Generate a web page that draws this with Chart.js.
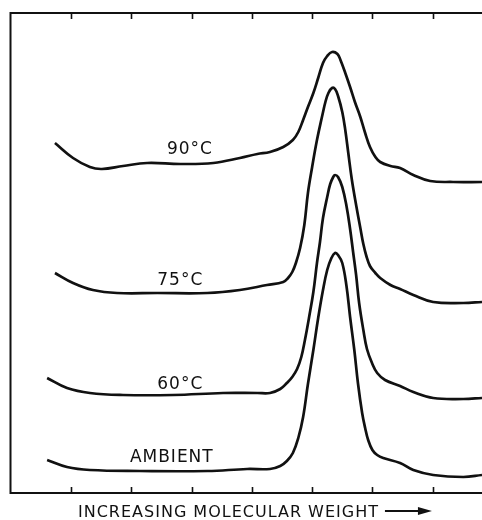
<!DOCTYPE html>
<html>
<head>
<meta charset="utf-8">
<script src="https://cdn.jsdelivr.net/npm/chart.js@4"></script>
<style>
  html, body { margin: 0; padding: 0; background: #fff; }
  canvas { display: block; }
</style>
</head>
<body>
<canvas id="c" width="482" height="520"></canvas>
<script>
// ---- data (x in tick units along molecular-weight axis, y in arbitrary response units) ----
const xTicks = [1, 2, 3, 4, 5, 6, 7];

const x90 = [0.73, 1.03, 1.31, 1.51, 1.86, 2.26, 2.81, 3.36, 3.80, 4.09, 4.30, 4.52, 4.68, 4.77, 4.85, 4.93, 5.02, 5.10, 5.18, 5.25, 5.33, 5.42, 5.47, 5.55, 5.63, 5.71, 5.80, 5.88, 5.96, 6.05, 6.13, 6.30, 6.46, 6.68, 6.96, 7.34, 7.82];
const y90 = [70, 67, 65.2, 64.8, 65.4, 66, 65.8, 66, 67, 67.8, 68.2, 69.2, 70.6, 72.2, 74.6, 77.2, 80, 83, 86, 87.4, 88.2, 87.8, 86.6, 84, 81.2, 78.2, 75.2, 72, 69.2, 67.2, 66.2, 65.4, 65, 63.6, 62.4, 62.2, 62.2];

const x75 = [0.73, 1.03, 1.36, 1.76, 2.43, 3.26, 3.80, 4.25, 4.52, 4.60, 4.67, 4.73, 4.80, 4.87, 4.93, 5.00, 5.08, 5.17, 5.22, 5.27, 5.33, 5.38, 5.43, 5.50, 5.55, 5.60, 5.66, 5.73, 5.80, 5.85, 5.90, 5.96, 6.05, 6.13, 6.30, 6.46, 6.68, 7.01, 7.51, 7.82];
const y75 = [44, 42, 40.6, 40, 40, 40, 40.6, 41.6, 42.2, 43, 44.2, 46, 49, 53.6, 60, 65.2, 70.6, 75.6, 78.2, 80, 81, 80.8, 79.4, 76.2, 72.6, 68, 62.6, 57.6, 53, 49.8, 47.4, 45.4, 44, 43, 41.6, 40.8, 39.6, 38.2, 38, 38.2];

const x60 = [0.60, 0.93, 1.31, 1.86, 2.69, 3.52, 4.09, 4.30, 4.47, 4.58, 4.67, 4.75, 4.82, 4.88, 4.95, 5.02, 5.08, 5.13, 5.18, 5.25, 5.30, 5.35, 5.38, 5.43, 5.50, 5.57, 5.63, 5.68, 5.73, 5.78, 5.85, 5.91, 6.00, 6.08, 6.21, 6.46, 6.68, 7.01, 7.51, 7.82];
const y60 = [23, 21, 20, 19.6, 19.6, 20, 20, 20, 20.8, 22, 23.2, 24.8, 27.2, 30.6, 35.2, 40.2, 46, 50.2, 55, 59.2, 61.8, 63.2, 63.6, 63.2, 61.2, 57.4, 52.8, 48.2, 43.6, 38, 32.6, 28.8, 25.8, 24, 22.6, 21.4, 20.2, 19, 18.8, 19];

const xAmb = [0.60, 0.93, 1.31, 2.14, 3.26, 3.92, 4.30, 4.47, 4.58, 4.68, 4.77, 4.85, 4.93, 5.02, 5.10, 5.18, 5.25, 5.32, 5.38, 5.43, 5.50, 5.57, 5.63, 5.70, 5.76, 5.83, 5.88, 5.93, 6.00, 6.08, 6.18, 6.46, 6.68, 7.01, 7.51, 7.82];
const yAmb = [6.6, 5.2, 4.6, 4.4, 4.4, 4.8, 4.8, 5.4, 6.4, 8, 11, 15.2, 21.8, 28.6, 35, 40.6, 44.6, 47, 48, 47.6, 46, 41.4, 35.2, 28.6, 22, 16, 13, 10.6, 8.6, 7.6, 7, 6, 4.6, 3.6, 3.2, 3.6];

const seriesNames = ['90°C', '75°C', '60°C', 'AMBIENT'];
const labelX = [2.97, 2.81, 2.81, 2.67];
const labelY = [68.6, 42.4, 21.6, 7.0];
const axisTitle = 'INCREASING MOLECULAR WEIGHT';

// ---- build datasets ----
function pts(xs, ys) { return xs.map((x, i) => ({ x: x, y: ys[i] })); }
const allX = [x90, x75, x60, xAmb];
const allY = [y90, y75, y60, yAmb];
const datasets = seriesNames.map((n, i) => ({
  label: n,
  data: pts(allX[i], allY[i]),
  borderColor: '#111',
  borderWidth: 2.7,
  pointRadius: 0,
  fill: false,
  tension: 0.4
}));

const FONT = '"DejaVu Sans", "Liberation Sans", sans-serif';

const decor = {
  id: 'decor',
  afterDatasetsDraw(chart) {
    const { ctx, chartArea: a, scales: { x, y } } = chart;
    ctx.save();
    // frame: left, top, bottom
    ctx.strokeStyle = '#111';
    ctx.lineWidth = 2;
    ctx.beginPath();
    ctx.moveTo(a.right, a.top); ctx.lineTo(a.left - 0.5, a.top); ctx.lineTo(a.left - 0.5, a.bottom); ctx.lineTo(a.right, a.bottom);
    ctx.stroke();
    // inward ticks
    ctx.lineWidth = 1.6;
    xTicks.forEach(v => {
      const px = Math.round(x.getPixelForValue(v)) + 0.5;
      ctx.beginPath();
      ctx.moveTo(px, a.bottom); ctx.lineTo(px, a.bottom - 6);
      ctx.moveTo(px, a.top); ctx.lineTo(px, a.top + 6);
      ctx.stroke();
    });
    // curve labels
    ctx.fillStyle = '#111';
    ctx.font = '17px ' + FONT;
    ctx.letterSpacing = '1px';
    ctx.textAlign = 'center';
    ctx.textBaseline = 'middle';
    seriesNames.forEach((n, i) => {
      ctx.fillText(n, x.getPixelForValue(labelX[i]), y.getPixelForValue(labelY[i]));
    });
    // axis title with arrow
    ctx.font = '16px ' + FONT;
    ctx.letterSpacing = '1px';
    ctx.textAlign = 'left';
    ctx.textBaseline = 'alphabetic';
    const tx = 78, ty = a.bottom + 24;
    ctx.fillText(axisTitle, tx, ty);
    const w = ctx.measureText(axisTitle).width;
    ctx.letterSpacing = '0px';
    const ax0 = tx + w + 6, ax1 = ax0 + 47, ay = ty - 6;
    ctx.lineWidth = 2;
    ctx.beginPath(); ctx.moveTo(ax0, ay); ctx.lineTo(ax1 - 10, ay); ctx.stroke();
    ctx.beginPath();
    ctx.moveTo(ax1, ay); ctx.lineTo(ax1 - 14, ay - 4); ctx.lineTo(ax1 - 14, ay + 4); ctx.closePath();
    ctx.fill();
    ctx.restore();
  }
};

new Chart(document.getElementById('c'), {
  type: 'line',
  data: { datasets: datasets },
  options: {
    responsive: false,
    animation: false,
    devicePixelRatio: 1,
    layout: { padding: { left: 11, right: 0, top: 13, bottom: 27 } },
    plugins: { legend: { display: false }, tooltip: { enabled: false } },
    scales: {
      x: { type: 'linear', min: 0, max: 7.82, display: false },
      y: { type: 'linear', min: 0, max: 96, display: false }
    }
  },
  plugins: [decor]
});
</script>
</body>
</html>
